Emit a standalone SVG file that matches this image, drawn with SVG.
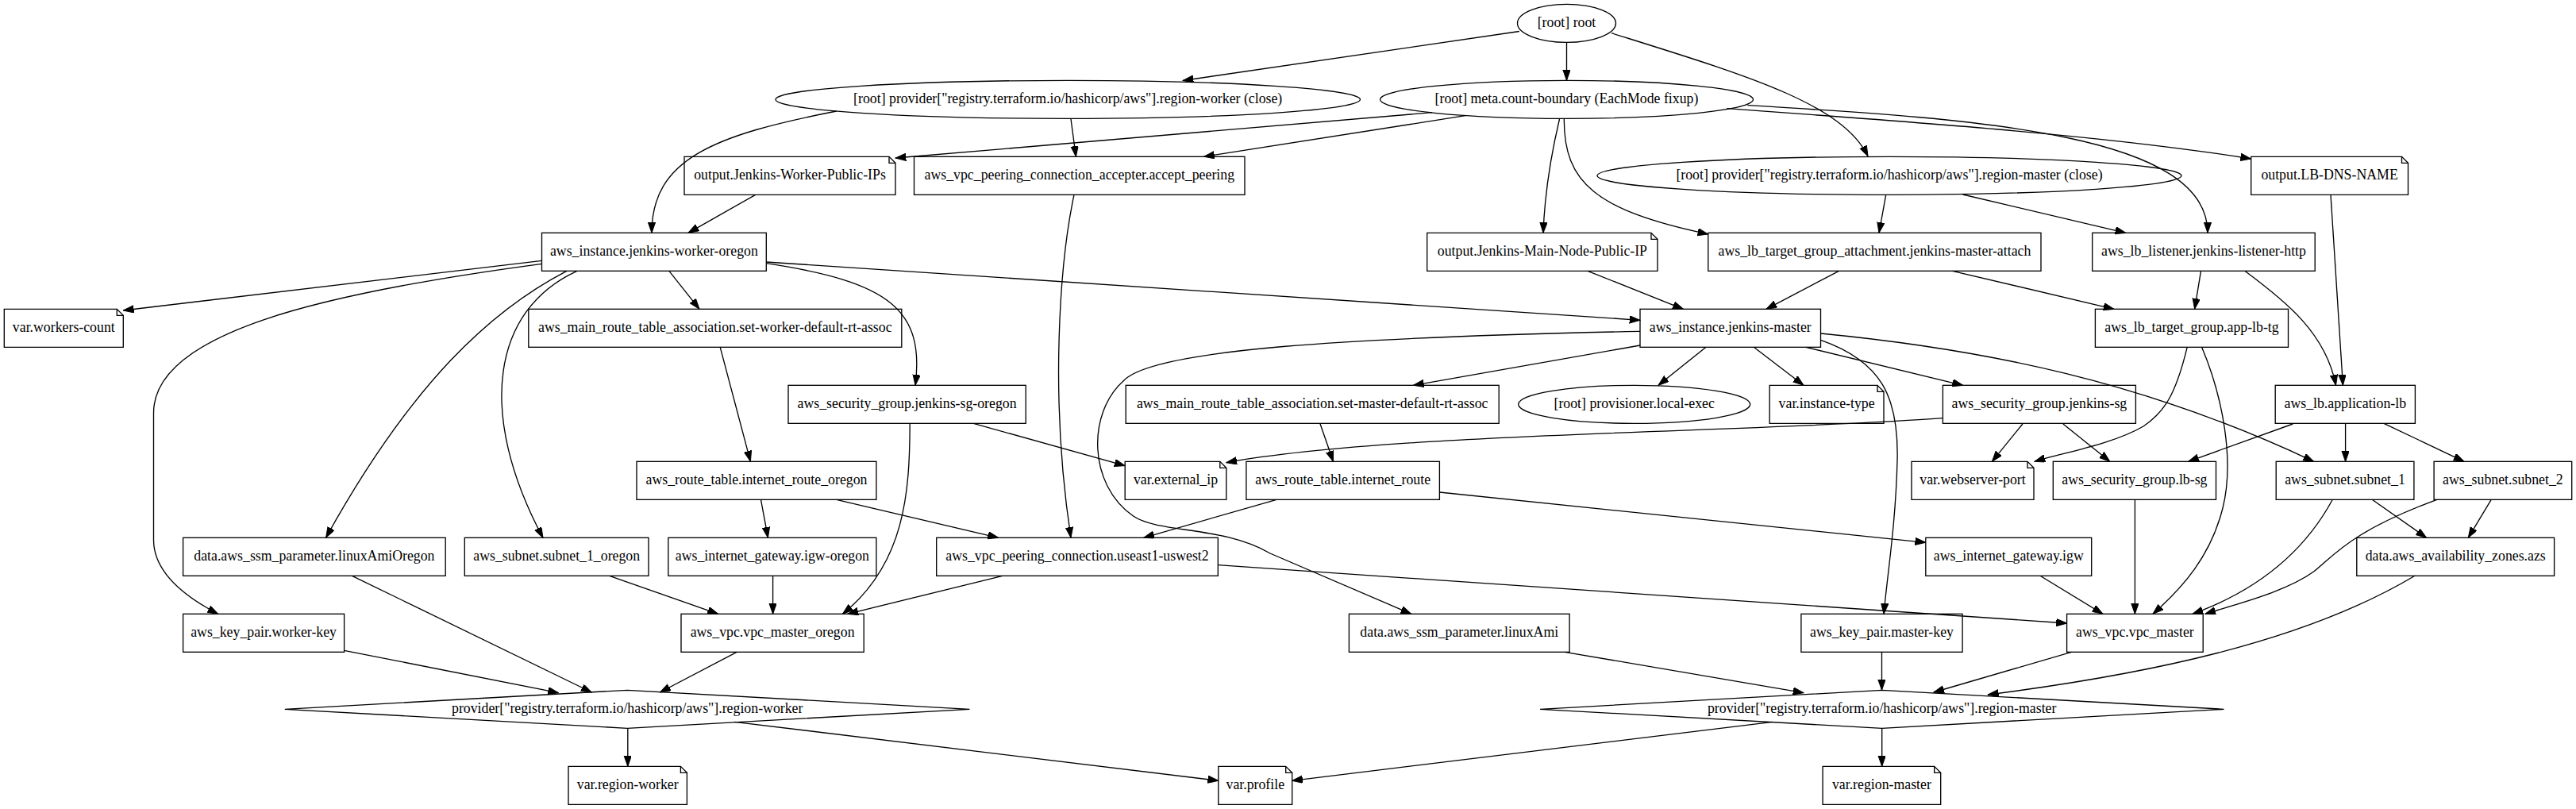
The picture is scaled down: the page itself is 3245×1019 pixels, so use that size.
<svg xmlns="http://www.w3.org/2000/svg" width="3245" height="1019" viewBox="0 0 3245 1019">
<style>
.n rect,.n polygon,.n ellipse,.n polyline{fill:none;stroke:#000;stroke-width:1.33}
text{font-family:"Liberation Serif","Times New Roman",serif;font-size:17.8px;text-anchor:middle;fill:#000}
.e path{fill:none;stroke:#000;stroke-width:1.33;marker-end:url(#ah)}
</style>
<defs>
<marker id="ah" markerUnits="userSpaceOnUse" markerWidth="14" markerHeight="10" refX="13.3" refY="4.67" orient="auto"><path d="M0,0 L13.3,4.67 L0,9.33 Z" fill="#000" stroke="#000" stroke-width="1"/></marker>
</defs>
<rect width="3245" height="1019" fill="#fff"/>
<g class="e">
<path d="M1973.5,53.3 L1973.5,101.3"/>
<path d="M1913.8,39.5 L1490,101.5"/>
<path d="M2030,41.7 C2200,95 2320,130 2353,196.7"/>
<path d="M1053.7,140 C900,170 821,200 821,293.3"/>
<path d="M1349,150 L1355.4,197.3"/>
<path d="M1804,141.7 L1128,199"/>
<path d="M1845.8,145.7 L1516.5,197.3"/>
<path d="M1964.5,150 C1955,190 1946,240 1944,293.3"/>
<path d="M1970.3,150 C1970,230 2010,265 2151.8,295"/>
<path d="M2175.3,136.7 C2400,153 2650,170 2835.7,200"/>
<path d="M2201.5,132.7 C2500,150 2781,170 2781,293.3"/>
<path d="M2375.6,246 L2367,293.3"/>
<path d="M2472.6,245 L2677.8,293.3"/>
<path d="M2936,245.3 L2951.4,485.3"/>
<path d="M951.7,245.3 L867,293.3"/>
<path d="M1353,245.3 C1335,330 1322,500 1349,677.3"/>
<path d="M2000,341.3 L2120.4,389.3"/>
<path d="M2316.5,341.3 L2225,389.3"/>
<path d="M2459.5,341.3 L2663,389.3"/>
<path d="M2772.5,341.3 L2764.6,389.3"/>
<path d="M2827.8,341.3 C2880,380 2930,420 2942.5,485.3"/>
<path d="M682.5,328.3 L155.3,391"/>
<path d="M682.5,332.3 C400,370 193.5,420 193.5,520 L193.5,680 C193.5,720 230,750 274.6,773.3"/>
<path d="M713.9,341.3 C620,390 520,480 410.6,677.3"/>
<path d="M727,341.3 C620,390 600,520 684,677.3"/>
<path d="M842.9,341.3 L881,389.3"/>
<path d="M965.3,331.7 C1120,355 1165,390 1153,485.3"/>
<path d="M965.3,330 L2066,403.3"/>
<path d="M907.2,437.3 L945.4,581.3"/>
<path d="M1226.3,533.3 L1417.2,586.7"/>
<path d="M1146.2,533.3 C1146,620 1140,710 1061.5,773.3"/>
<path d="M958.5,629.3 L967.4,677.3"/>
<path d="M1053.7,629.3 L1257.6,677.3"/>
<path d="M1608,629.3 L1440.7,677.3"/>
<path d="M1813.4,620 L2425.8,683.3"/>
<path d="M2066,435 L1780.4,485.3"/>
<path d="M2149,437.3 L2089,485.3"/>
<path d="M2209.3,437.3 L2272,485.3"/>
<path d="M2274.7,437.3 L2472.6,485.3"/>
<path d="M2293.5,420 C2500,440 2700,480 2914.6,581.3"/>
<path d="M2293.5,428.3 C2370,455 2392,500 2390,580 C2388,660 2378,720 2373,773.3"/>
<path d="M2066,417.3 C1700,425 1450,440 1415,480 C1370,520 1370,610 1427.6,650 C1460,672 1540,662 1600,697 L1777.8,773.3"/>
<path d="M2447.4,526.7 C2200,545 1750,545 1544.8,582.7"/>
<path d="M2547.9,534 L2509.4,581.3"/>
<path d="M2598.9,534 L2657.8,581.3"/>
<path d="M2755.2,437.3 C2740,500 2725,520 2700,537 C2660,560 2600,570 2563,581.3"/>
<path d="M2773.6,437.3 C2800,500 2815,580 2800,640 C2785,700 2750,740 2712,773.3"/>
<path d="M2888.3,534 L2756.7,581.3"/>
<path d="M2954.6,533.3 L2954.6,581.3"/>
<path d="M3003,533.3 L3104,581.3"/>
<path d="M2689.4,629.3 L2689.4,773.3"/>
<path d="M2988.2,629.3 L3056.6,677.3"/>
<path d="M2938.3,629.3 C2900,700 2840,745 2762,773.3"/>
<path d="M3069.8,629.3 C2960,670 2940,700 2914.6,720 C2880,745 2820,760 2777.8,773.3"/>
<path d="M3138.2,629.3 L3109.3,677.3"/>
<path d="M3042.4,725 C2900,810 2700,850 2504.2,875"/>
<path d="M2609.4,821.3 L2435.8,872"/>
<path d="M2570,725.3 L2648.9,773.3"/>
<path d="M1534.3,711.7 L2603.6,785"/>
<path d="M1262.9,725.3 L1067.8,773.3"/>
<path d="M767.8,725.3 L904.6,773.3"/>
<path d="M973.6,725.3 L973.6,773.3"/>
<path d="M928.1,821.3 L831.4,872"/>
<path d="M443.5,725.3 L745.3,872"/>
<path d="M433.6,819.3 L703.5,872.7"/>
<path d="M790.8,917.3 L790.8,965.3"/>
<path d="M925.5,909.3 L1534.8,983.3"/>
<path d="M2232.8,909.3 L1627.7,983.3"/>
<path d="M2370.7,917.3 L2370.7,965.3"/>
<path d="M1971.3,821.3 L2272,872.7"/>
<path d="M2370.5,821.3 L2370.5,869.3"/>
<path d="M1662.8,533.3 L1679.5,581.3"/>
</g>
<g class="n" id="root"><ellipse cx="1973.5" cy="29.33" rx="62" ry="24"/><text x="1973.5" y="34.3">[root] root</text></g>
<g class="n" id="region-worker-close"><ellipse cx="1345.2" cy="125.33" rx="368.3" ry="24"/><text x="1345.2" y="130.3">[root] provider["registry.terraform.io/hashicorp/aws"].region-worker (close)</text></g>
<g class="n" id="meta-count-boundary"><ellipse cx="1973.5" cy="125.33" rx="235" ry="24"/><text x="1973.5" y="130.3">[root] meta.count-boundary (EachMode fixup)</text></g>
<g class="n" id="out-worker-ips"><polygon points="862,197.33 1120,197.33 1128,205.33 1128,245.33 862,245.33"/><polyline points="1120,197.33 1120,205.33 1128,205.33"/><text x="995" y="226.3">output.Jenkins-Worker-Public-IPs</text></g>
<g class="n" id="accept-peering"><rect x="1151.5" y="197.33" width="416.5" height="48"/><text x="1359.8" y="226.3">aws_vpc_peering_connection_accepter.accept_peering</text></g>
<g class="n" id="region-master-close"><ellipse cx="2380" cy="221.33" rx="368" ry="24"/><text x="2380" y="226.3">[root] provider["registry.terraform.io/hashicorp/aws"].region-master (close)</text></g>
<g class="n" id="out-lb-dns"><polygon points="2835.7,197.33 3025.5,197.33 3033.5,205.33 3033.5,245.33 2835.7,245.33"/><polyline points="3025.5,197.33 3025.5,205.33 3033.5,205.33"/><text x="2934.6" y="226.3">output.LB-DNS-NAME</text></g>
<g class="n" id="worker-oregon"><rect x="682.5" y="293.33" width="282.8" height="48"/><text x="823.9" y="322.3">aws_instance.jenkins-worker-oregon</text></g>
<g class="n" id="out-main-ip"><polygon points="1797.7,293.33 2080,293.33 2088,301.33 2088,341.33 1797.7,341.33"/><polyline points="2080,293.33 2080,301.33 2088,301.33"/><text x="1942.9" y="322.3">output.Jenkins-Main-Node-Public-IP</text></g>
<g class="n" id="tg-attach"><rect x="2151.8" y="293.33" width="419.2" height="48"/><text x="2361.4" y="322.3">aws_lb_target_group_attachment.jenkins-master-attach</text></g>
<g class="n" id="lb-listener"><rect x="2635.7" y="293.33" width="280.5" height="48"/><text x="2776" y="322.3">aws_lb_listener.jenkins-listener-http</text></g>
<g class="n" id="var-workers-count"><polygon points="5.3,389.33 147.3,389.33 155.3,397.33 155.3,437.33 5.3,437.33"/><polyline points="147.3,389.33 147.3,397.33 155.3,397.33"/><text x="80.3" y="418.3">var.workers-count</text></g>
<g class="n" id="worker-rt-assoc"><rect x="665.8" y="389.33" width="470" height="48"/><text x="900.8" y="418.3">aws_main_route_table_association.set-worker-default-rt-assoc</text></g>
<g class="n" id="jenkins-master"><rect x="2066" y="389.33" width="227.5" height="48"/><text x="2179.8" y="418.3">aws_instance.jenkins-master</text></g>
<g class="n" id="app-lb-tg"><rect x="2639.4" y="389.33" width="243.1" height="48"/><text x="2761" y="418.3">aws_lb_target_group.app-lb-tg</text></g>
<g class="n" id="sg-oregon"><rect x="993" y="485.33" width="299.2" height="48"/><text x="1142.6" y="514.3">aws_security_group.jenkins-sg-oregon</text></g>
<g class="n" id="master-rt-assoc"><rect x="1418.2" y="485.33" width="470" height="48"/><text x="1653.2" y="514.3">aws_main_route_table_association.set-master-default-rt-assoc</text></g>
<g class="n" id="local-exec"><ellipse cx="2058.7" cy="509.33" rx="146" ry="24"/><text x="2058.7" y="514.3">[root] provisioner.local-exec</text></g>
<g class="n" id="var-instance-type"><polygon points="2229.2,485.33 2365,485.33 2373,493.33 2373,533.33 2229.2,533.33"/><polyline points="2365,485.33 2365,493.33 2373,493.33"/><text x="2301.1" y="514.3">var.instance-type</text></g>
<g class="n" id="jenkins-sg"><rect x="2447.4" y="485.33" width="243" height="48"/><text x="2568.9" y="514.3">aws_security_group.jenkins-sg</text></g>
<g class="n" id="app-lb"><rect x="2866.2" y="485.33" width="176.2" height="48"/><text x="2954.3" y="514.3">aws_lb.application-lb</text></g>
<g class="n" id="rt-oregon"><rect x="802" y="581.33" width="301.9" height="48"/><text x="953" y="610.3">aws_route_table.internet_route_oregon</text></g>
<g class="n" id="var-external-ip"><polygon points="1417.2,581.33 1536.8,581.33 1544.8,589.33 1544.8,629.33 1417.2,629.33"/><polyline points="1536.8,581.33 1536.8,589.33 1544.8,589.33"/><text x="1481" y="610.3">var.external_ip</text></g>
<g class="n" id="internet-route"><rect x="1569.9" y="581.33" width="243.5" height="48"/><text x="1691.7" y="610.3">aws_route_table.internet_route</text></g>
<g class="n" id="var-webserver-port"><polygon points="2408,581.33 2554,581.33 2562,589.33 2562,629.33 2408,629.33"/><polyline points="2554,581.33 2554,589.33 2562,589.33"/><text x="2485" y="610.3">var.webserver-port</text></g>
<g class="n" id="lb-sg"><rect x="2586.3" y="581.33" width="205.2" height="48"/><text x="2688.9" y="610.3">aws_security_group.lb-sg</text></g>
<g class="n" id="subnet-1"><rect x="2867.2" y="581.33" width="173.7" height="48"/><text x="2954" y="610.3">aws_subnet.subnet_1</text></g>
<g class="n" id="subnet-2"><rect x="3066.1" y="581.33" width="173.6" height="48"/><text x="3152.9" y="610.3">aws_subnet.subnet_2</text></g>
<g class="n" id="ssm-oregon"><rect x="230.6" y="677.33" width="330.6" height="48"/><text x="395.9" y="706.3">data.aws_ssm_parameter.linuxAmiOregon</text></g>
<g class="n" id="subnet-1-oregon"><rect x="585.3" y="677.33" width="231.7" height="48"/><text x="701.2" y="706.3">aws_subnet.subnet_1_oregon</text></g>
<g class="n" id="igw-oregon"><rect x="841.8" y="677.33" width="262.1" height="48"/><text x="972.9" y="706.3">aws_internet_gateway.igw-oregon</text></g>
<g class="n" id="peering"><rect x="1179.7" y="677.33" width="354.6" height="48"/><text x="1357" y="706.3">aws_vpc_peering_connection.useast1-uswest2</text></g>
<g class="n" id="igw"><rect x="2425.8" y="677.33" width="208.9" height="48"/><text x="2530.3" y="706.3">aws_internet_gateway.igw</text></g>
<g class="n" id="azs"><rect x="2968.8" y="677.33" width="248.8" height="48"/><text x="3093.2" y="706.3">data.aws_availability_zones.azs</text></g>
<g class="n" id="worker-key"><rect x="230.6" y="773.33" width="203" height="48"/><text x="332.1" y="802.3">aws_key_pair.worker-key</text></g>
<g class="n" id="vpc-oregon"><rect x="858" y="773.33" width="230.2" height="48"/><text x="973.1" y="802.3">aws_vpc.vpc_master_oregon</text></g>
<g class="n" id="ssm-linux"><rect x="1699.4" y="773.33" width="277.7" height="48"/><text x="1838.3" y="802.3">data.aws_ssm_parameter.linuxAmi</text></g>
<g class="n" id="master-key"><rect x="2268.9" y="773.33" width="203.2" height="48"/><text x="2370.5" y="802.3">aws_key_pair.master-key</text></g>
<g class="n" id="vpc-master"><rect x="2603.6" y="773.33" width="171.6" height="48"/><text x="2689.4" y="802.3">aws_vpc.vpc_master</text></g>
<g class="n" id="prov-worker"><polygon points="790.2,869.33 1221.5,893.33 790.2,917.33 358.8,893.33"/><text x="790.2" y="898.3">provider["registry.terraform.io/hashicorp/aws"].region-worker</text></g>
<g class="n" id="prov-master"><polygon points="2370.7,869.33 2801.5,893.33 2370.7,917.33 1940,893.33"/><text x="2370.7" y="898.3">provider["registry.terraform.io/hashicorp/aws"].region-master</text></g>
<g class="n" id="var-region-worker"><polygon points="716,965.33 857.4,965.33 865.4,973.33 865.4,1013.33 716,1013.33"/><polyline points="857.4,965.33 857.4,973.33 865.4,973.33"/><text x="790.7" y="994.3">var.region-worker</text></g>
<g class="n" id="var-profile"><polygon points="1534.8,965.33 1619.7,965.33 1627.7,973.33 1627.7,1013.33 1534.8,1013.33"/><polyline points="1619.7,965.33 1619.7,973.33 1627.7,973.33"/><text x="1581.3" y="994.3">var.profile</text></g>
<g class="n" id="var-region-master"><polygon points="2296.1,965.33 2436.7,965.33 2444.7,973.33 2444.7,1013.33 2296.1,1013.33"/><polyline points="2436.7,965.33 2436.7,973.33 2444.7,973.33"/><text x="2370.4" y="994.3">var.region-master</text></g>
</svg>
